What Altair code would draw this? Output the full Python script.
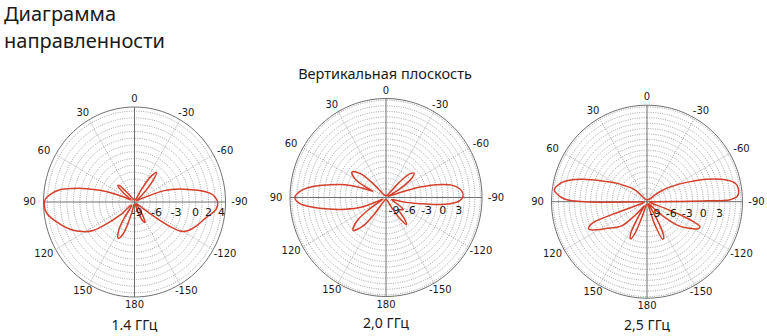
import altair as alt
import pandas as pd
import numpy as np

# ---------------- data ----------------
TITLE_LINES = ["Диаграмма", "направленности"]
SUBTITLE = "Вертикальная плоскость"
FREQ_LABELS = ["1.4 ГГц", "2,0 ГГц", "2,5 ГГц"]
ANGLE_TICKS = [0, 30, 60, 90, 120, 150, 180, -150, -120, -90, -60, -30]
RADIAL_TICKS_14 = [-9, -6, -3, 0, 2, 4]
RADIAL_TICKS_20 = [-9, -6, -3, 0, 3]
RADIAL_TICKS_25 = [-9, -6, -3, 0, 3]

# 1.4 GHz : angle (deg, + = left of top), gain (dB)
ANG_14 = [-180, -165, -160, -155, -152, -148, -142, -135, -128, -125, -123, -121,
          -118, -114, -110, -105, -102, -99, -95, -90, -86, -84, -80, -76, -72,
          -70, -68, -65, -58, -48, -42, -38, -34, -30, -25, -10, 0, 20, 38, 44,
          47, 52, 58, 64, 66, 69, 72, 75, 78, 81, 85, 88, 92, 97, 104, 112, 119,
          123.5, 127, 131, 134, 140, 146, 150, 155, 160, 165, 170, 180]
DB_14 = [-9.1, -9.0, -7.7, -6.3, -6.0, -6.9, -8.7, -9.1, -8.7, -5.2, -2.4, -1.0,
         -0.3, 0.3, 0.8, 1.4, 1.8, 2.4, 3.2, 3.4, 2.9, 2.4, 0.5, -1.6, -3.4,
         -4.5, -6.3, -8.3, -9.0, -7.7, -5.2, -3.9, -4.8, -7.3, -9.0, -9.1, -9.1, -9.0, -8.0, -6.0,
         -5.9, -7.3, -8.8, -8.3, -7.6, -5.9, -3.8, -1.8, 0.2, 2.2, 3.6, 4.3, 4.5, 4.2, 2.9, 1.3, -0.4,
         -1.8, -4.1, -6.5, -8.7, -8.7, -6.6, -4.5, -3.5, -4.5, -7.7, -9.0, -9.1]

# 2.0 GHz
ANG_20 = [-180, -160, -150, -145, -142, -138, -133, -128, -124, -118, -110, -105,
          -103, -100, -97.7, -95.5, -92.4, -88.8, -85.3, -80.3, -76.2, -73.5, -72,
          -70, -65, -62, -58, -54, -50, -46, -42, -38, -30, 0, 30, 40, 44, 48, 54,
          60, 64, 66, 69, 73, 78, 82, 86, 90, 94, 97, 101, 105.6, 111, 113, 116,
          120, 124, 128, 134, 140, 144, 148, 165, 180]
DB_20 = [-10.1, -10.0, -8.4, -5.5, -4.3, -5.5, -7.3, -6.9, -6.6, -8.4, -9.4, -8.4,
         -6.6, -4.1, -1.0, 1.4, 3.2, 3.8, 3.6, 2.2, -0.8, -3.9, -6.6,
         -9.1, -10.0, -9.6, -6.9, -4.6, -3.7, -4.4, -6.9, -9.6, -10.1, -10.1, -10.1, -9.6, -6.9, -4.1, -2.7,
         -3.9, -6.6, -7.8, -5.7, -2.6, 0.4, 3.4, 5.5, 6.4, 5.5, 3.4, 0.4, -2.6, -5.7, -8.3, -9.8,
         -9.6, -6.9, -3.7, -2.0, -3.7, -6.9, -9.6, -10.1, -10.1]

# 2.5 GHz
ANG_25 = [-180, -166, -161, -157, -154, -151, -147, -140, -134, -131, -127.5, -124,
          -120, -118, -115, -113, -111.5, -110, -108, -100, -92, -90.3, -89.6, -89.2,
          -88.6, -86.8, -83.8, -78.3, -75, -69.7, -65.4, -57.6, -53, -50, -45, -20,
          0, 20, 38, 45, 50, 55, 58.7, 66, 70.7, 74.3, 78.1, 82.9, 86.7, 88.5,
          89.5, 90.3, 90.8, 91.2, 92, 100, 108, 110, 111, 113, 115, 117.7, 120,
          123.4, 127, 130.2, 134, 138, 142, 146, 150, 153, 156, 159, 162, 166, 180]
DB_25 = [-10.1, -10.0, -6.0, -3.0, -3.4, -6.0, -9.6, -10.0, -8.7, -6.0, -3.4, -2.0,
         -0.5, 0.2, 0.4, -1.2, -3.7, -6.9, -9.6, -10.0, -10.0, -8.7, -5.2, 0.7,
         5.0, 6.3, 6.7, 6.3, 4.9, 1.4, -1.6, -5.4, -7.3, -8.4, -9.8, -10.1,
         -10.1, -10.1, -9.8, -7.6, -6.4, -5.3, -4.0, -1.0, 2.0, 4.3, 6.0, 6.9, 5.7, 4.6,
         2.9, 0.2, -3.4, -6.9, -9.6, -10.0, -9.6, -3.4, 0.2, 1.2, 1.5, 0.7, -0.2,
         -1.6, -2.5, -3.2, -4.3, -6.9, -8.7, -9.6, -6.9, -3.7, -3.0, -4.3, -7.8, -9.8, -10.1]

# ---------------- layout (positions / styles) ----------------
W, H = 767, 336
PANELS = [
    dict(cx=134.5, cy=202.0, rx=91.0, ry=95.0, lo=-9.4, hi=4.6, lab_dy=11, fy=326,
         ang=ANG_14, db=DB_14, ticks=RADIAL_TICKS_14, name=FREQ_LABELS[0]),
    dict(cx=386.0, cy=197.5, rx=96.0, ry=99.0, lo=-10.5, hi=7.3, lab_dy=13, fy=324,
         ang=ANG_20, db=DB_20, ticks=RADIAL_TICKS_20, name=FREQ_LABELS[1]),
    dict(cx=647.0, cy=201.7, rx=95.5, ry=96.5, lo=-10.5, hi=7.3, lab_dy=12, fy=326,
         ang=ANG_25, db=DB_25, ticks=RADIAL_TICKS_25, name=FREQ_LABELS[2]),
]
CURVE = "#d4402b"
GRID = "#8f8f8f"
AXIS = "#707070"
TXT = "#1a1a1a"
LBL_FONT = "DejaVu Sans"
TXT_FONT = "Noto Sans"

XS = alt.Scale(domain=[0, W], nice=False, zero=False)
YS = alt.Scale(domain=[H, 0], nice=False, zero=False)


def enc(**kw):
    return dict(x=alt.X("px:Q", scale=XS, axis=None),
                y=alt.Y("py:Q", scale=YS, axis=None), **kw)


def proj(p, rexpr, texpr="datum.t"):
    px = f"{p['cx']} - {p['rx']}*({rexpr})*sin(({texpr})*PI/180)"
    py = f"{p['cy']} - {p['ry']}*({rexpr})*cos(({texpr})*PI/180)"
    return px, py


def rnorm(p, field="datum.db"):
    return f"clamp(({field} - ({p['lo']}))/({p['hi'] - p['lo']}), 0, 1)"


layers = []
circle_t = list(range(0, 361, 3))
for p in PANELS:
    # dotted rings at every dB
    levels = list(range(-9, int(np.floor(p["hi"])) + 1))
    rings = pd.DataFrame([(lv, t) for lv in levels for t in circle_t], columns=["db", "t"])
    px, py = proj(p, rnorm(p))
    layers.append(alt.Chart(rings).transform_calculate(px=px, py=py)
                  .mark_line(color=GRID, strokeWidth=0.8, strokeDash=[1, 1.3])
                  .encode(**enc(detail="db:N", order="t:Q")))
    # outer circle
    outer = pd.DataFrame({"t": circle_t})
    px, py = proj(p, "1")
    layers.append(alt.Chart(outer).transform_calculate(px=px, py=py)
                  .mark_line(color=AXIS, strokeWidth=1)
                  .encode(**enc(order="t:Q")))
    # dotted spokes every 30 deg
    sp = [a for a in ANGLE_TICKS if a % 90 != 0]
    spokes = pd.DataFrame([(a, r) for a in sp for r in (0, 1)], columns=["t", "r"])
    px, py = proj(p, "datum.r")
    layers.append(alt.Chart(spokes).transform_calculate(px=px, py=py)
                  .mark_line(color=GRID, strokeWidth=0.8, strokeDash=[1, 1.3])
                  .encode(**enc(detail="t:N", order="r:Q")))
    # main axes
    ax = [a for a in ANGLE_TICKS if a % 90 == 0]
    axes = pd.DataFrame([(a, r) for a in ax for r in (0, 1)], columns=["t", "r"])
    layers.append(alt.Chart(axes).transform_calculate(px=px, py=py)
                  .mark_line(color=AXIS, strokeWidth=1)
                  .encode(**enc(detail="t:N", order="r:Q")))
    # radiation pattern
    curve = pd.DataFrame({"t": p["ang"], "db": p["db"], "i": range(len(p["ang"]))})
    px, py = proj(p, rnorm(p))
    layers.append(alt.Chart(curve).transform_calculate(px=px, py=py)
                  .mark_line(color=CURVE, strokeWidth=1.5, interpolate="catmull-rom")
                  .encode(**enc(order="i:Q")))
    # angle labels
    al = pd.DataFrame({"t": ANGLE_TICKS, "lab": [str(a) for a in ANGLE_TICKS]})
    lx = (f"{p['cx']} - ({p['rx']} + 11 + 3*abs(sin(datum.t*PI/180)))"
          f"*sin(datum.t*PI/180)")
    ly = f"{p['cy']} - ({p['ry']} + 8)*cos(datum.t*PI/180)"
    layers.append(alt.Chart(al).transform_calculate(px=lx, py=ly)
                  .mark_text(font=LBL_FONT, fontSize=10, color=TXT, align="center",
                             baseline="middle")
                  .encode(**enc(text="lab:N")))
    # radial (dB) labels
    rl = pd.DataFrame({"db": p["ticks"], "lab": [str(v) for v in p["ticks"]]})
    rx_ = f"{p['cx']} + {p['rx']}*{rnorm(p)}"
    ry_ = f"{p['cy']} + {p['lab_dy']}"
    layers.append(alt.Chart(rl).transform_calculate(px=rx_, py=ry_)
                  .mark_text(font=LBL_FONT, fontSize=11, color=TXT, align="center",
                             baseline="middle")
                  .encode(**enc(text="lab:N")))
    # frequency caption
    fl = pd.DataFrame({"lab": [p["name"]]})
    layers.append(alt.Chart(fl).transform_calculate(px=f"{p['cx']}", py=f"{p['fy']}")
                  .mark_text(font=TXT_FONT, fontSize=14, color=TXT, align="center",
                             baseline="middle")
                  .encode(**enc(text="lab:N")))

# titles
tl = pd.DataFrame({"lab": TITLE_LINES, "k": [0, 1]})
layers.append(alt.Chart(tl).transform_calculate(px="4", py="21 + 27*datum.k")
              .mark_text(font=TXT_FONT, fontSize=20, color=TXT, align="left",
                         baseline="alphabetic")
              .encode(**enc(text="lab:N")))
st = pd.DataFrame({"lab": [SUBTITLE]})
layers.append(alt.Chart(st).transform_calculate(px="385", py="75")
              .mark_text(font=TXT_FONT, fontSize=14.5, color=TXT, align="center",
                         baseline="middle")
              .encode(**enc(text="lab:N")))

chart = (alt.layer(*layers)
         .properties(width=W, height=H, padding=0, autosize="none", background="white")
         .configure_view(stroke=None))

chart.save("out.html", embed_options={"renderer": "svg", "actions": False})
